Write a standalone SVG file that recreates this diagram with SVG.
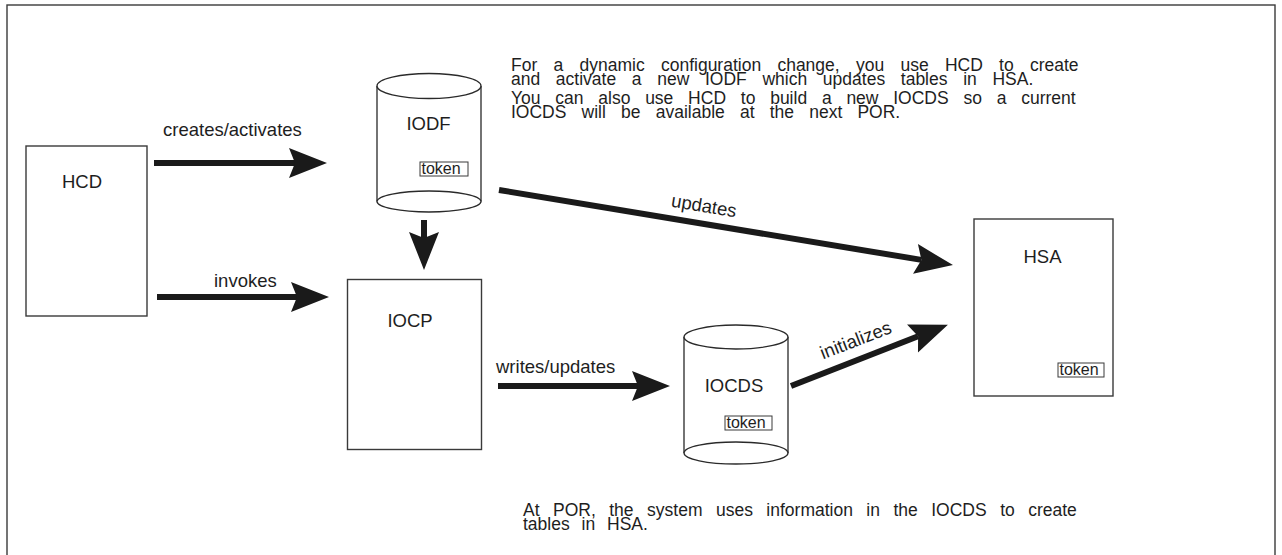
<svg xmlns="http://www.w3.org/2000/svg" width="1282" height="555" viewBox="0 0 1282 555">
<style>
text{font-family:"Liberation Sans",Arial,sans-serif;fill:#1e1e1e}
.lbl{font-size:18.5px}
.par{font-size:17.5px}
.tok{font-size:16px}
.box{fill:#fff;stroke:#3a3a3a;stroke-width:1.4}
.tbox{fill:#fff;stroke:#3a3a3a;stroke-width:1}
.cyl{fill:#fff;stroke:#2a2a2a;stroke-width:1.3}
.arr{stroke:#1a1a1a;stroke-width:6;fill:none;marker-end:url(#head)}
</style>
<defs>
<marker id="head" markerUnits="userSpaceOnUse" viewBox="-1 -16 40 32" markerWidth="40" markerHeight="32" refX="6" refY="0" orient="auto">
<path d="M0,-15 L38,0 L0,15 L6,0 Z" fill="#1a1a1a"/>
</marker>
</defs>
<rect x="7" y="5" width="1268" height="560" fill="#fff" stroke="#3a3a3a" stroke-width="1.4"/>

<g id="connectors">
<line class="arr" x1="154" y1="163" x2="295" y2="163"/>
<line class="arr" x1="157" y1="297" x2="297" y2="297"/>
<line class="arr" x1="424" y1="220" x2="424" y2="238"/>
<line class="arr" x1="498" y1="386" x2="638" y2="386"/>
<line class="arr" x1="499" y1="190" x2="921.4" y2="259.9"/>
<line class="arr" x1="791" y1="386" x2="918.1" y2="336.3"/>
<text class="lbl" x="163" y="136">creates/activates</text>
<text class="lbl" x="214" y="287">invokes</text>
<text class="lbl" x="496" y="373">writes/updates</text>
<text class="lbl" x="703" y="212" text-anchor="middle" transform="rotate(9.4 703 212)">updates</text>
<text class="lbl" x="858" y="346" text-anchor="middle" transform="rotate(-21.2 858 346)">initializes</text>
</g>

<g id="hcd">
<rect class="box" x="26" y="146" width="121" height="170"/>
<text class="lbl" x="82" y="188" text-anchor="middle">HCD</text>
</g>

<g id="iodf">
<path class="cyl" d="M377,86 L377,201.5 M481,86 L481,201.5"/>
<ellipse class="cyl" cx="429" cy="86" rx="52" ry="12.5"/>
<ellipse class="cyl" cx="429" cy="201.5" rx="52" ry="10.5"/>
<text class="lbl" x="428.5" y="130" text-anchor="middle">IODF</text>
<rect class="tbox" x="420" y="162" width="48" height="14"/>
<text class="tok" x="421.5" y="174">token</text>
</g>

<g id="iocp">
<rect class="box" x="347.5" y="279.5" width="134" height="170"/>
<text class="lbl" x="410" y="327" text-anchor="middle">IOCP</text>
</g>

<g id="iocds">
<path class="cyl" d="M684,337 L684,453 M788,337 L788,453"/>
<ellipse class="cyl" cx="736" cy="337" rx="52" ry="12"/>
<ellipse class="cyl" cx="736" cy="453" rx="52" ry="11"/>
<text class="lbl" x="734" y="392" text-anchor="middle">IOCDS</text>
<rect class="tbox" x="725" y="416" width="47" height="14"/>
<text class="tok" x="726.5" y="428">token</text>
</g>

<g id="hsa">
<rect class="box" x="974" y="219" width="139" height="177"/>
<text class="lbl" x="1042.5" y="263" text-anchor="middle">HSA</text>
<rect class="tbox" x="1058" y="363" width="46" height="14"/>
<text class="tok" x="1059.5" y="375">token</text>
</g>

<g id="note-top">
<text class="par" x="511" y="70.5" style="word-spacing:11.4px">For a dynamic configuration change, you use HCD to create</text>
<text class="par" x="511" y="84.5" style="word-spacing:10.8px">and activate a new IODF which updates tables in HSA.</text>
<text class="par" x="511" y="103.5" style="word-spacing:9.9px">You can also use HCD to build a new IOCDS so a current</text>
<text class="par" x="511" y="117.5" style="word-spacing:10.3px">IOCDS will be available at the next POR.</text>
</g>

<g id="note-bottom">
<text class="par" x="523" y="515.5" style="word-spacing:8.6px">At POR, the system uses information in the IOCDS to create</text>
<text class="par" x="523" y="529.5" style="word-spacing:7px">tables in HSA.</text>
</g>
</svg>
